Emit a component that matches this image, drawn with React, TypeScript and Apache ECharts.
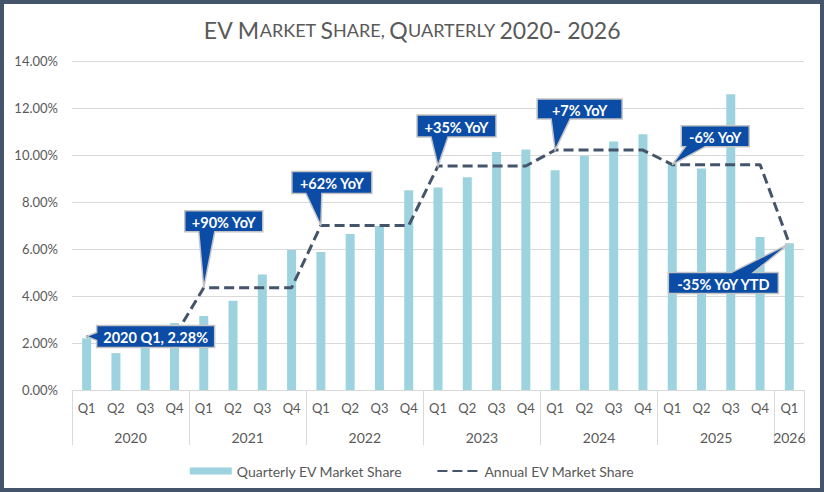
import { useEffect, useRef } from "react";
import * as echarts from "echarts";

const years = ["2020", "2021", "2022", "2023", "2024", "2025", "2026"];
const periods = years.flatMap((y) =>
  (y === "2026" ? ["Q1"] : ["Q1", "Q2", "Q3", "Q4"]).map((q) => `${y} ${q}`),
);

// quarterly EV share, %
const quarterlyShare = [
  2.2, 1.57, 2.3, 2.85,
  3.15, 3.8, 4.92, 5.96,
  5.87, 6.64, 6.98, 8.5,
  8.62, 9.05, 10.13, 10.23,
  9.35, 9.97, 10.57, 10.88,
  9.66, 9.43, 12.58, 6.51,
  6.25,
];

// annual share repeated on each quarter of its year
const annualShare = [
  2.28, 2.28, 2.28, 2.28,
  4.35, 4.35, 4.35, 4.35,
  7.0, 7.0, 7.0, 7.0,
  9.53, 9.53, 9.53, 9.53,
  10.21, 10.21, 10.21, 10.21,
  9.59, 9.59, 9.59, 9.59,
  6.23,
];

const calloutTexts = [
  "2020 Q1, 2.28%",
  "+90% YoY",
  "+62% YoY",
  "+35% YoY",
  "+7% YoY",
  "-6% YoY",
  "-35% YoY YTD",
];
const calloutIndex = [0, 4, 8, 12, 16, 20, 24];

// box offset from the anchor point, size, side of the pointer and its base
const calloutLayout = [
  { bx: 10, by: -11, w: 118, h: 22, side: "left", b1: 7, b2: 15 },
  { bx: -19, by: -77, w: 78, h: 21, side: "bottom", b1: 14, b2: 30 },
  { bx: -29, by: -54, w: 80, h: 22, side: "bottom", b1: 14, b2: 30 },
  { bx: -21, by: -51, w: 79, h: 22, side: "bottom", b1: 14, b2: 31 },
  { bx: -18, by: -51, w: 85, h: 20, side: "bottom", b1: 14, b2: 33 },
  { bx: 9, by: -39, w: 68, h: 21, side: "bottom", b1: 4, b2: 24 },
  { bx: -121, by: 29, w: 110, h: 21, side: "top", b1: 63, b2: 85 },
];

const FONT = "Lato, 'Open Sans', sans-serif";
const GREY_TEXT = "#595959";
const GRID_GREY = "#d9d9d9";
const BAR_COLOR = "#9dd3de";
const LINE_COLOR = "#44546a";
const CALLOUT_BLUE = "#0a4ca6";

const yearStarts = periods
  .map((p, i) => (p.endsWith("Q1") ? i : -1))
  .filter((i) => i >= 0);
const yearBounds = [...yearStarts, periods.length];
const yearMids = yearStarts.map((s, i) => (s + yearBounds[i + 1]) / 2);

function calloutPolygon(px: number, py: number, c: (typeof calloutLayout)[number]) {
  const x0 = px + c.bx;
  const y0 = py + c.by;
  const x1 = x0 + c.w;
  const y1 = y0 + c.h;
  if (c.side === "bottom") {
    return [[x0, y0], [x1, y0], [x1, y1], [x0 + c.b2, y1], [px, py], [x0 + c.b1, y1], [x0, y1]];
  }
  if (c.side === "top") {
    return [[x0, y0], [x0 + c.b1, y0], [px, py], [x0 + c.b2, y0], [x1, y0], [x1, y1], [x0, y1]];
  }
  return [[x0, y0], [x1, y0], [x1, y1], [x0, y1], [x0, y0 + c.b2], [px, py], [x0, y0 + c.b1]];
}

const App = () => {
  const ref = useRef<HTMLDivElement | null>(null);

  useEffect(() => {
    document.body.style.margin = "0";
    if (!ref.current) return;
    const chart = echarts.init(ref.current, undefined, { renderer: "svg" });

    chart.setOption({
      animation: false,
      textStyle: { fontFamily: FONT },
      title: {
        left: "center",
        top: 9,
        text: "{b|EV M}{s|ARKET }{b|S}{s|HARE, }{b|Q}{s|UARTERLY }{b|2020- 2026}",
        textStyle: {
          fontWeight: "normal",
          rich: {
            b: { fontSize: 23, fontWeight: "normal", color: GREY_TEXT, fontFamily: FONT },
            s: { fontSize: 18, fontWeight: "normal", color: GREY_TEXT, fontFamily: FONT },
          },
        },
      },
      grid: { left: 68, right: 16, top: 57, bottom: 98 },
      legend: {
        top: 455,
        left: "center",
        itemWidth: 42,
        itemHeight: 7,
        itemGap: 34,
        textStyle: { color: GREY_TEXT, fontSize: 14, fontFamily: FONT },
        data: [
          { name: "Quarterly EV Market Share", icon: "rect" },
          { name: "Annual EV Market Share", itemStyle: { opacity: 0 } },
        ],
      },
      xAxis: [
        {
          type: "category",
          data: periods,
          axisLine: { lineStyle: { color: GRID_GREY } },
          axisTick: { show: false },
          axisLabel: {
            interval: 0,
            margin: 11,
            color: GREY_TEXT,
            fontSize: 13,
            formatter: (v: string) => v.split(" ")[1],
          },
        },
        {
          type: "value",
          min: 0,
          max: periods.length,
          position: "bottom",
          axisLine: { show: false },
          splitLine: { show: false },
          axisTick: {
            show: true,
            customValues: yearBounds,
            length: 55,
            lineStyle: { color: GRID_GREY },
          },
          axisLabel: {
            customValues: yearMids,
            margin: 40,
            color: GREY_TEXT,
            fontSize: 14,
            formatter: (v: number) => years[yearMids.indexOf(v)] ?? "",
          },
        },
      ],
      yAxis: {
        type: "value",
        min: 0,
        max: 14,
        interval: 2,
        axisLine: { show: false },
        axisTick: { show: false },
        splitLine: { lineStyle: { color: GRID_GREY } },
        axisLabel: {
          margin: 14,
          color: GREY_TEXT,
          fontSize: 13,
          formatter: (v: number) => `${v.toFixed(2)}%`,
        },
      },
      series: [
        {
          name: "Quarterly EV Market Share",
          type: "bar",
          barWidth: 9,
          itemStyle: { color: BAR_COLOR },
          data: quarterlyShare,
        },
        {
          name: "Annual EV Market Share",
          type: "line",
          symbol: "none",
          z: 3,
          itemStyle: { color: LINE_COLOR },
          lineStyle: { color: LINE_COLOR, width: 3, type: [10, 5] },
          data: annualShare,
        },
      ],
    });

    const graphics: object[] = [];
    calloutIndex.forEach((idx, i) => {
      const [px, py] = chart.convertToPixel(
        { xAxisIndex: 0, yAxisIndex: 0 },
        [idx, annualShare[idx]],
      ) as number[];
      const c = calloutLayout[i];
      graphics.push({
        type: "polygon",
        z: 100,
        shape: { points: calloutPolygon(px, py, c) },
        style: { fill: CALLOUT_BLUE, stroke: "#c4c4c4", lineWidth: 1.5 },
      });
      graphics.push({
        type: "text",
        z: 101,
        x: px + c.bx + c.w / 2,
        y: py + c.by + c.h / 2 + 1,
        style: {
          text: calloutTexts[i],
          fill: "#ffffff",
          font: `bold 14.5px ${FONT}`,
          textAlign: "center",
          textVerticalAlign: "middle",
        },
      });
    });
    chart.setOption({ graphic: graphics });

    return () => chart.dispose();
  }, []);

  return (
    <div
      style={{
        width: 824,
        height: 492,
        boxSizing: "border-box",
        border: "4px solid #44546a",
        background: "#ffffff",
      }}
    >
      <div ref={ref} style={{ width: 816, height: 484 }} />
    </div>
  );
};

export default App;
